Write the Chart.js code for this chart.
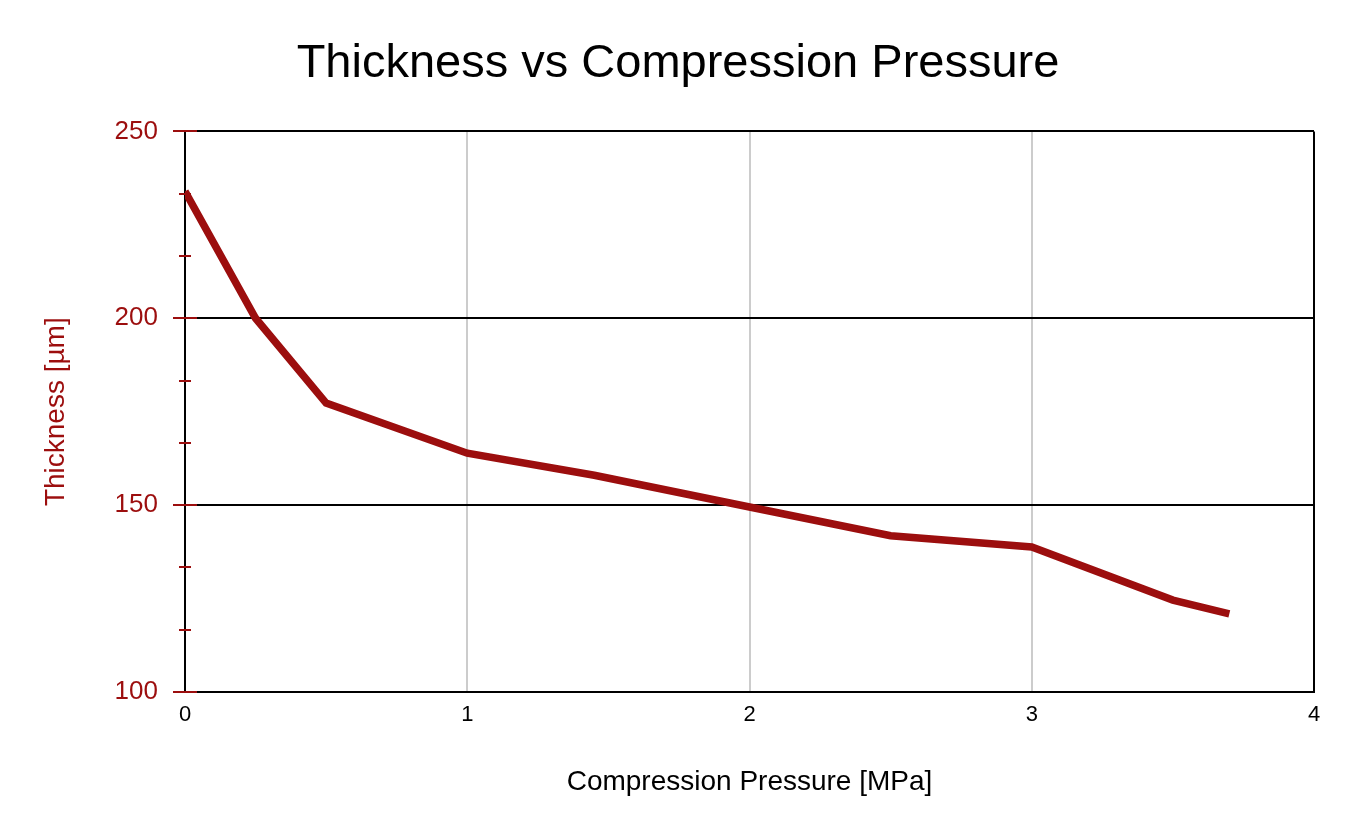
<!DOCTYPE html>
<html><head><meta charset="utf-8">
<script src="https://cdn.jsdelivr.net/npm/chart.js@4"></script>
<style>html,body{margin:0;padding:0;background:#fff}#wrap{width:1356px;height:840px}</style>
</head><body><div id="wrap"><canvas id="c" width="1356" height="840"></canvas></div>
<script>
const pressure = [0, 0.25, 0.5, 1.0, 1.45, 2.0, 2.5, 3.0, 3.5, 3.7];
const thickness = [234, 200, 177.3, 163.9, 158, 149.5, 141.8, 138.8, 124.6, 120.9];
const xTicks = [0, 1, 2, 3, 4];
const yTicks = [100, 150, 200, 250];
const RED = '#9c0e0e';
const FONT = "'Liberation Sans', Arial, sans-serif";

const tickPlugin = {
  id: 'yTickMarks',
  afterDraw(chart) {
    const ys = chart.scales.y, ctx = chart.ctx, x0 = chart.chartArea.left;
    ctx.save();
    ctx.strokeStyle = RED; ctx.lineWidth = 2;
    yTicks.forEach((v, i) => {
      const p = Math.round(ys.getPixelForValue(v));
      ctx.beginPath(); ctx.moveTo(x0 - 12, p); ctx.lineTo(x0 + 12, p); ctx.stroke();
      if (i < yTicks.length - 1) {
        const step = (yTicks[i + 1] - v) / 3;
        for (let k = 1; k < 3; k++) {
          const q = Math.round(ys.getPixelForValue(v + k * step));
          ctx.beginPath(); ctx.moveTo(x0 - 6, q); ctx.lineTo(x0 + 6, q); ctx.stroke();
        }
      }
    });
    ctx.restore();
  }
};

new Chart(document.getElementById('c'), {
  type: 'scatter',
  data: {
    datasets: [{
      data: pressure.map((x, i) => ({x, y: thickness[i]})),
      showLine: true,
      borderColor: RED,
      borderWidth: 7.5,
      pointRadius: 0,
      fill: false,
      tension: 0
    }]
  },
  options: {
    responsive: false,
    animation: false,
    devicePixelRatio: 1,
    layout: {padding: {left: 0, right: 0, top: 0, bottom: 0}},
    plugins: {
      legend: {display: false},
      tooltip: {enabled: false},
      title: {
        display: true,
        text: 'Thickness vs Compression Pressure',
        color: '#000',
        font: {family: FONT, size: 47, weight: 'normal'},
        padding: {top: 36, bottom: 39}
      }
    },
    scales: {
      x: {
        type: 'linear', min: 0, max: 4,
        afterBuildTicks: s => { s.ticks = xTicks.map(v => ({value: v})); },
        afterFit: s => { s.height = 148; },
        ticks: {color: '#000', font: {family: FONT, size: 22}, padding: 10, maxRotation: 0},
        grid: {
          drawTicks: false,
          lineWidth: 2,
          color: c => (c.tick && (c.tick.value === 0 || c.tick.value === 4)) ? '#000' : '#cccccc'
        },
        border: {color: '#000', width: 2},
        title: {display: true, text: 'Compression Pressure [MPa]', color: '#000',
          font: {family: FONT, size: 28}, padding: {top: 0, bottom: 41}}
      },
      y: {
        type: 'linear', min: 100, max: 250,
        afterBuildTicks: s => { s.ticks = yTicks.map(v => ({value: v})); },
        afterFit: s => { s.width = 185; },
        ticks: {color: RED, font: {family: FONT, size: 26}, padding: 27},
        grid: {drawTicks: false, color: '#000', lineWidth: 2},
        border: {color: '#000', width: 2},
        title: {display: true, text: 'Thickness [µm]', color: RED,
          font: {family: FONT, size: 28}, padding: {top: 39, bottom: 0}}
      },
      yRight: {
        type: 'linear', position: 'right', min: 100, max: 250,
        afterFit: s => { s.width = 42; },
        ticks: {display: false},
        grid: {display: false, drawOnChartArea: false},
        border: {display: false}
      }
    }
  },
  plugins: [tickPlugin]
});
</script></body></html>
